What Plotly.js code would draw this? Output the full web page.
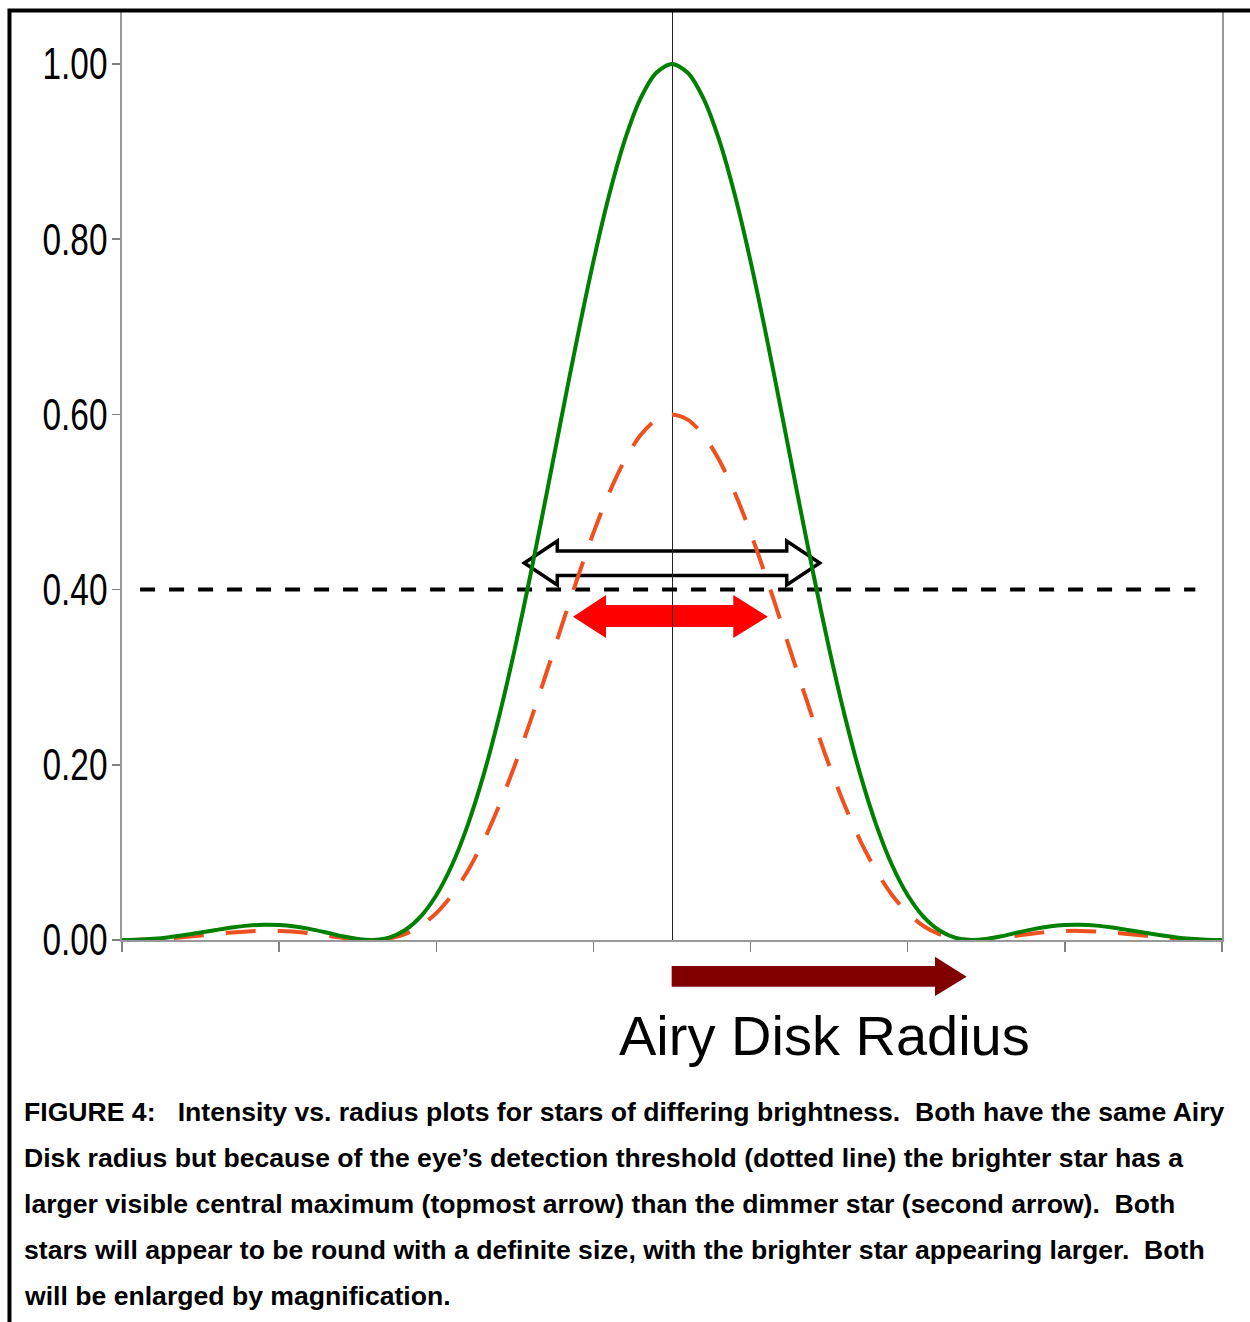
<!DOCTYPE html>
<html>
<head>
<meta charset="utf-8">
<script src="https://cdn.plot.ly/plotly-3.0.1.min.js"></script>
<style>
  html, body { margin: 0; padding: 0; background: #ffffff; }
  #chart { width: 1250px; height: 1322px; }
</style>
</head>
<body>
<div id="chart"></div>
<script>
// ---- data ----
var radius = [-7.0,-6.8,-6.6,-6.4,-6.2,-6.0,-5.8,-5.6,-5.4,-5.2,-5.0,-4.8,-4.6,-4.4,-4.2,-4.0,-3.8,-3.6,-3.4,-3.2,-3.0,-2.8,-2.6,-2.4,-2.2,-2.0,-1.8,-1.6,-1.4,-1.2,-1.0,-0.8,-0.6,-0.4,-0.2,0.0,
              0.2,0.4,0.6,0.8,1.0,1.2,1.4,1.6,1.8,2.0,2.2,2.4,2.6,2.8,3.0,3.2,3.4,3.6,3.8,4.0,4.2,4.4,4.6,4.8,5.0,5.2,5.4,5.6,5.8,6.0,6.2,6.4,6.6,6.8,7.0];

var brightStar = [0.0000,0.0004,0.0014,0.0032,0.0057,0.0085,0.0115,0.0143,0.0164,0.0174,0.0172,0.0155,0.0124,0.0085,0.0044,0.0011,0.0001,0.0028,0.0111,0.0267,0.0511,0.0856,0.1312,0.1879,0.2555,0.3326,0.4175,0.5075,0.5994,0.6897,0.7746,0.8503,0.9133,0.9607,0.9900,1.0000,
                  0.9900,0.9607,0.9133,0.8503,0.7746,0.6897,0.5994,0.5075,0.4175,0.3326,0.2555,0.1879,0.1312,0.0856,0.0511,0.0267,0.0111,0.0028,0.0001,0.0011,0.0044,0.0085,0.0124,0.0155,0.0172,0.0174,0.0164,0.0143,0.0115,0.0085,0.0057,0.0032,0.0014,0.0004,0.0000];

var dimStar = [0.0000,0.0002,0.0008,0.0019,0.0034,0.0051,0.0069,0.0086,0.0098,0.0104,0.0103,0.0093,0.0074,0.0051,0.0026,0.0007,0.0001,0.0017,0.0067,0.0160,0.0307,0.0514,0.0787,0.1127,0.1533,0.1996,0.2505,0.3045,0.3596,0.4138,0.4648,0.5102,0.5480,0.5764,0.5940,0.6000,
               0.5940,0.5764,0.5480,0.5102,0.4648,0.4138,0.3596,0.3045,0.2505,0.1996,0.1533,0.1127,0.0787,0.0514,0.0307,0.0160,0.0067,0.0017,0.0001,0.0007,0.0026,0.0051,0.0074,0.0093,0.0103,0.0104,0.0098,0.0086,0.0069,0.0051,0.0034,0.0019,0.0008,0.0002,0.0000];

var thresholdLevel = 0.40;
var thresholdExtent = [-6.77, 6.66];

var yTickVals = [0.00, 0.20, 0.40, 0.60, 0.80, 1.00];
var yTickText = ['0.00', '0.20', '0.40', '0.60', '0.80', '1.00'];
var xTickVals = [-7, -5, -3, -1, 1, 3, 5, 7];

var axisLabel = 'Airy Disk Radius';
var captionLines = [
  'FIGURE 4:\u00a0\u00a0 Intensity vs. radius plots for stars of differing brightness.\u00a0 Both have the same Airy',
  'Disk radius but because of the eye\u2019s detection threshold (dotted line) the brighter star has a',
  'larger visible central maximum (topmost arrow) than the dimmer star (second arrow).\u00a0 Both',
  'stars will appear to be round with a definite size, with the brighter star appearing larger.\u00a0 Both',
  'will be enlarged by magnification.'
];

// ---- traces ----
var traces = [
  {
    x: thresholdExtent, y: [thresholdLevel, thresholdLevel],
    mode: 'lines', type: 'scatter', hoverinfo: 'skip', showlegend: false,
    line: { color: '#000000', width: 4, dash: '15px,14px' }
  },
  {
    x: radius, y: dimStar, mode: 'lines', type: 'scatter', showlegend: false,
    line: { color: '#F0501E', width: 4, dash: '30px,22px', shape: 'spline', smoothing: 0.8 }
  },
  {
    x: radius, y: brightStar, mode: 'lines', type: 'scatter', showlegend: false,
    line: { color: '#008000', width: 4, shape: 'spline', smoothing: 0.8 }
  }
];

var shapes = [
  // hollow double arrow (bright star visible width)
  {
    type: 'path', xref: 'x', yref: 'y', layer: 'below',
    path: 'M -1.88,0.4304 L -1.46,0.4555 L -1.46,0.4441 L 1.46,0.4441 L 1.46,0.4555 L 1.88,0.4304 L 1.46,0.4053 L 1.46,0.4161 L -1.46,0.4161 L -1.46,0.4053 Z',
    fillcolor: '#FFFFFF', line: { color: '#000000', width: 3.5 }
  },
  // red double arrow (dim star visible width)
  {
    type: 'path', xref: 'x', yref: 'y', layer: 'below',
    path: 'M -1.26,0.369 L -0.84,0.3938 L -0.84,0.3824 L 0.78,0.3824 L 0.78,0.3938 L 1.22,0.369 L 0.78,0.3447 L 0.78,0.3573 L -0.84,0.3573 L -0.84,0.3447 Z',
    fillcolor: '#FF0000', line: { width: 0 }
  },
  // maroon radius arrow below axis
  {
    type: 'path', xref: 'paper', yref: 'paper', layer: 'above',
    path: 'M 0.4997,-0.02796 L 0.7391,-0.02796 L 0.7391,-0.01796 L 0.7679,-0.0395 L 0.7391,-0.0602 L 0.7391,-0.0502 L 0.4997,-0.0502 Z',
    fillcolor: '#800000', line: { width: 0 }
  },
  // outer frame
  {
    type: 'rect', xref: 'paper', yref: 'paper', layer: 'above',
    x0: -0.1023, x1: 1.04, y0: -0.45, y1: 0.9995,
    line: { color: '#000000', width: 4 }, fillcolor: 'rgba(0,0,0,0)'
  }
];

var annotations = [
  {
    xref: 'paper', yref: 'paper', x: 0.4500, y: -0.1029, xanchor: 'left', yanchor: 'middle',
    text: axisLabel, showarrow: false,
    font: { family: 'Liberation Sans, Arial, sans-serif', size: 56, color: '#000000' }
  }
];
var captionY = [-0.18495, -0.2344, -0.28387, -0.33333, -0.3828];
for (var i = 0; i < captionLines.length; i++) {
  annotations.push({
    xref: 'paper', yref: 'paper', x: -0.0905, y: captionY[i], xanchor: 'left', yanchor: 'middle',
    text: '<b>' + captionLines[i] + '</b>', showarrow: false, align: 'left',
    font: { family: 'Liberation Sans, Arial, sans-serif', size: 26.6, color: '#000000' }
  });
}

var layout = {
  width: 1250, height: 1322,
  margin: { l: 122, r: 28, t: 10, b: 382, pad: 0 },
  paper_bgcolor: '#FFFFFF', plot_bgcolor: '#FFFFFF',
  showlegend: false,
  xaxis: {
    range: [-7, 7], tickmode: 'array', tickvals: xTickVals, showticklabels: false,
    ticks: 'outside', ticklen: 10, tickwidth: 1.5, tickcolor: '#808080',
    showline: true, linecolor: '#999999', linewidth: 2,
    showgrid: false, zeroline: true, zerolinecolor: '#222222', zerolinewidth: 1
  },
  yaxis: {
    range: [0, 1.0616], tickmode: 'array', tickvals: yTickVals, ticktext: yTickText,
    ticks: 'outside', ticklen: 8, tickwidth: 1.5, tickcolor: '#808080',
    showline: true, mirror: true, linecolor: '#999999', linewidth: 2,
    showgrid: false, zeroline: false,
    tickfont: { family: 'Liberation Sans, Arial, sans-serif', size: 44, color: '#000000' }
  },
  shapes: shapes,
  annotations: annotations
};

Plotly.newPlot('chart', traces, layout, { displayModeBar: false, staticPlot: true }).then(function (gd) {
  // narrow (condensed) look of the y tick labels, as in the original
  var labels = gd.querySelectorAll('.ytick text');
  labels.forEach(function (t) {
    t.setAttribute('lengthAdjust', 'spacingAndGlyphs');
    t.setAttribute('textLength', '65');
  });
  labels.forEach(function (t) {
    var r = t.getBoundingClientRect();
    var shift = 107.5 - r.right;
    t.setAttribute('dx', shift.toFixed(1));
  });
});
</script>
</body>
</html>
